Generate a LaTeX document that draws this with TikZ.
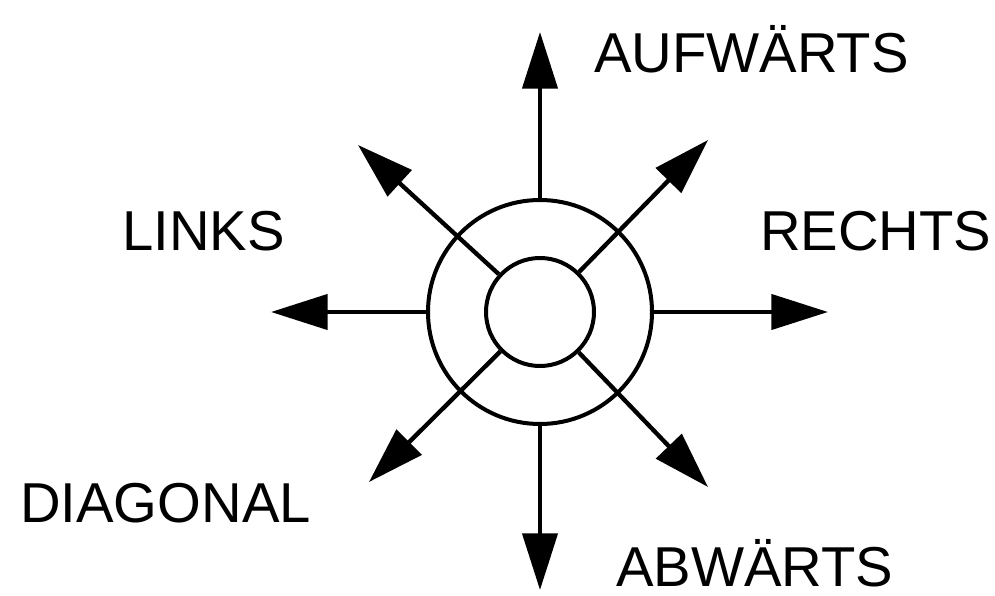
\documentclass[tikz,border=0pt]{standalone}
\usepackage{fontspec}
\setmainfont{Liberation Sans}
\usetikzlibrary{arrows.meta}
\tikzset{ring/.style={circle,draw=black,line width=1.2mm,inner sep=0pt},
  richtung/.style={draw=black,line width=1.3mm,-{Triangle[length=17mm,width=10.5mm]}},
  wort/.style={anchor=base west,inner sep=0pt,font=\fontsize{48}{56}\selectfont}}

\begin{document}
\begin{tikzpicture}[x=0.3mm,y=-0.3mm]
\useasboundingbox (0,0) rectangle (995,596);

\node[ring,minimum size=67.2mm] (aussen) at (540,312) {};
\node[ring,minimum size=32.4mm] (innen) at (540,312) {};

\coordinate (oben) at (540,32);
\coordinate (unten) at (540,590);
\coordinate (links) at (271,312);
\coordinate (rechts) at (828,312);
\coordinate (obenlinks) at (358,145);
\coordinate (obenrechts) at (708,140);
\coordinate (untenlinks) at (369,482);
\coordinate (untenrechts) at (708,487);

\draw[richtung] (aussen.north) -- (oben);
\draw[richtung] (aussen.south) -- (unten);
\draw[richtung] (aussen.west) -- (links);
\draw[richtung] (aussen.east) -- (rechts);

\draw[richtung] (innen) -- (obenlinks);
\draw[richtung] (innen) -- (obenrechts);
\draw[richtung] (innen) -- (untenlinks);
\draw[richtung] (innen) -- (untenrechts);

\node[wort] (tauf) at (594,73) {AUFWÄRTS};
\node[wort] (trechts) at (760,250) {RECHTS};
\node[wort] (tlinks) at (122,250) {LINKS};
\node[wort] (tdiag) at (20,522) {DIAGONAL};
\node[wort] (tab) at (616,586) {ABWÄRTS};

\end{tikzpicture}
\end{document}
